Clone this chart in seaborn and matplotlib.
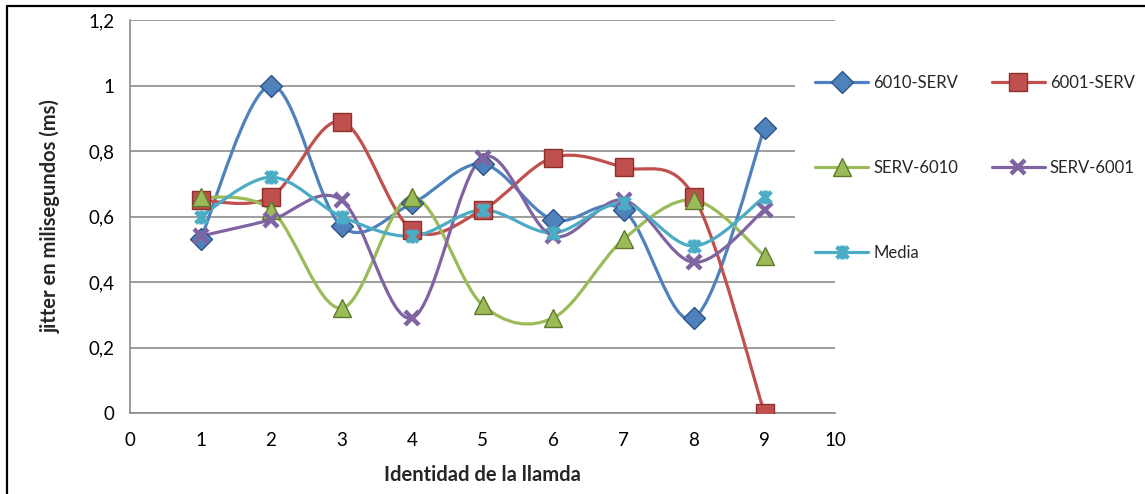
import numpy as np
import matplotlib
matplotlib.use("Agg")
import matplotlib.pyplot as plt
import seaborn as sns
from matplotlib.path import Path
from matplotlib.patches import PathPatch
from matplotlib.lines import Line2D
from matplotlib.ticker import FuncFormatter

# Data
llamadas = [1, 2, 3, 4, 5, 6, 7, 8, 9]
s_6010_serv = [0.53, 1.00, 0.57, 0.64, 0.76, 0.59, 0.62, 0.29, 0.87]
s_6001_serv = [0.65, 0.66, 0.89, 0.56, 0.62, 0.78, 0.75, 0.66, 0.00]
s_serv_6010 = [0.66, 0.62, 0.32, 0.66, 0.33, 0.29, 0.53, 0.65, 0.48]
s_serv_6001 = [0.54, 0.59, 0.65, 0.29, 0.78, 0.54, 0.65, 0.46, 0.62]
s_media = [0.60, 0.72, 0.60, 0.54, 0.62, 0.55, 0.64, 0.51, 0.66]

series_names = ["6010-SERV", "6001-SERV", "SERV-6010", "SERV-6001", "Media"]
yticks = [0, 0.2, 0.4, 0.6, 0.8, 1.0, 1.2]
xticks = list(range(0, 11))

# Excel-like marker styling
star = Path([(-1, -1), (1, 1), (-1, 1), (1, -1), (0, -1.2), (0, 1.2)],
            [Path.MOVETO, Path.LINETO, Path.MOVETO, Path.LINETO, Path.MOVETO, Path.LINETO])
styles = [
    dict(color="#4F81BD", edge="#2C5487", marker="D", ms=11, mew=1.0),
    dict(color="#C0504D", edge="#8C2F2D", marker="s", ms=12.5, mew=1.0),
    dict(color="#9BBB59", edge="#5E7A2A", marker="^", ms=13.5, mew=1.0),
    dict(color="#8064A2", edge="#8064A2", marker="x", ms=10.5, mew=3.2),
    dict(color="#4BACC6", edge="#4BACC6", marker=star, ms=10, mew=3.2),
]
all_series = [s_6010_serv, s_6001_serv, s_serv_6010, s_serv_6001, s_media]

sns.set_style("white")
plt.rcParams['font.family'] = ['Lato', 'DejaVu Sans']

fig = plt.figure(figsize=(11.45, 4.94), dpi=100)
ax = fig.add_axes([130 / 1145, 1 - 413 / 494, 705 / 1145, 393 / 494])


def smooth_path(xs, ys):
    # cubic bezier segments like Excel's smoothed line
    pts = np.column_stack([xs, ys]).astype(float)
    n = len(pts)
    verts = [pts[0]]
    codes = [Path.MOVETO]
    for i in range(n - 1):
        p0 = pts[i - 1] if i > 0 else pts[i]
        p1 = pts[i]
        p2 = pts[i + 1]
        p3 = pts[i + 2] if i + 2 < n else pts[i + 1]
        c1 = p1 + (p2 - p0) / 6.0
        c2 = p2 - (p3 - p1) / 6.0
        verts += [c1, c2, p2]
        codes += [Path.CURVE4] * 3
    return Path(verts, codes)


for ys, st in zip(all_series, styles):
    ax.add_patch(PathPatch(smooth_path(llamadas, ys), facecolor="none",
                           edgecolor=st["color"], lw=2.3, zorder=3, capstyle="round"))

handles = []
for name, ys, st in zip(series_names, all_series, styles):
    sns.lineplot(x=llamadas, y=ys, ax=ax, linestyle="none", marker=st["marker"],
                 markersize=st["ms"], markerfacecolor=st["color"],
                 markeredgecolor=st["edge"], markeredgewidth=st["mew"],
                 color=st["color"], zorder=4, legend=False)
    handles.append(Line2D([], [], color=st["color"], lw=2.3, marker=st["marker"],
                          markersize=st["ms"], markerfacecolor=st["color"],
                          markeredgecolor=st["edge"], markeredgewidth=st["mew"]))

ax.set_xlim(0, 10)
ax.set_ylim(0, 1.2)
ax.set_xticks(xticks)
ax.set_yticks(yticks)
ax.yaxis.set_major_formatter(FuncFormatter(lambda v, p: f"{v:g}".replace(".", ",")))
ax.grid(axis="y", color="#8C8C8C", lw=1.2)
ax.set_axisbelow(True)
for side in ["top", "right"]:
    ax.spines[side].set_visible(False)
for side in ["left", "bottom"]:
    ax.spines[side].set_color("#8C8C8C")
    ax.spines[side].set_linewidth(1.2)
ax.tick_params(axis="both", which="major", direction="out", length=5, width=1.2,
               color="#8C8C8C", labelsize=13.5, labelcolor="#000000", pad=6)
ax.tick_params(axis="x", pad=9)

ax.set_xlabel("Identidad de la llamda", fontsize=14.5, fontweight="bold", labelpad=11)
ax.set_ylabel("jitter en milisegundos (ms)", fontsize=14.5, fontweight="bold", labelpad=20)

# row-major legend order as in the picture
order = [0, 2, 4, 1, 3]
leg = fig.legend(handles=[handles[i] for i in order],
                 labels=[series_names[i] for i in order], ncol=2,
                 loc="upper left", bbox_to_anchor=(795 / 1145, 1 - 55 / 494),
                 frameon=True, facecolor="white", edgecolor="none", framealpha=1,
                 fontsize=12, handlelength=3.2, handletextpad=0.3,
                 columnspacing=2.0, labelspacing=4.15, borderpad=1.2, borderaxespad=0)
leg.set_zorder(10)

# outer frame (only top and left edges visible in the picture)
fig.add_artist(Line2D([6.5 / 1145, 6.5 / 1145], [0, 1 - 6.5 / 494], color="black", lw=1.6))
fig.add_artist(Line2D([6.5 / 1145, 1], [1 - 6.5 / 494, 1 - 6.5 / 494], color="black", lw=1.6))

fig.savefig("out.png", dpi=100)
